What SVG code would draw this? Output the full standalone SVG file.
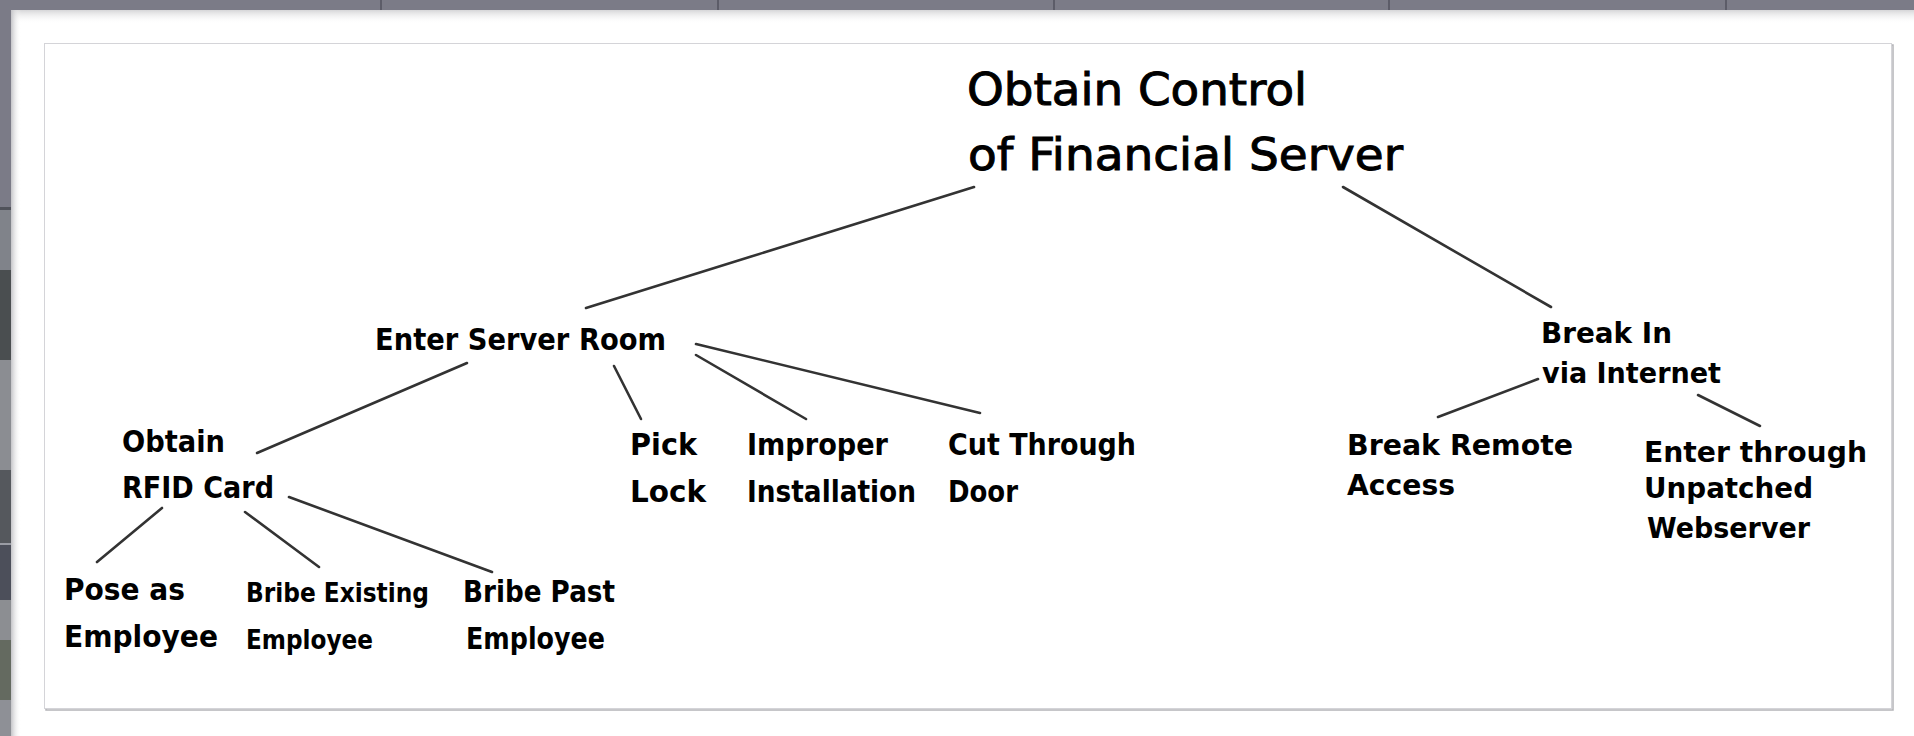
<svg xmlns="http://www.w3.org/2000/svg" width="1914" height="736" viewBox="0 0 1914 736">
  <defs>
    <linearGradient id="panelTop" x1="0" y1="0" x2="0" y2="1">
      <stop offset="0" stop-color="#d6d6d8"/>
      <stop offset="1" stop-color="#ffffff" stop-opacity="0"/>
    </linearGradient>
    <linearGradient id="panelLeft" x1="0" y1="0" x2="1" y2="0">
      <stop offset="0" stop-color="#c4c4c8"/>
      <stop offset="1" stop-color="#ffffff" stop-opacity="0"/>
    </linearGradient>
    <style>
      .lbl { font-family: "DejaVu Sans", "Liberation Sans", sans-serif; font-weight: bold; fill: #000; }
      .root { font-family: "DejaVu Sans", "Liberation Sans", sans-serif; font-weight: normal; font-size: 45px; fill: #000; stroke: #000; stroke-width: 1; }
      .s30 { font-size: 30px; }
      .s28 { font-size: 28px; }
      .s27 { font-size: 27px; }
      .edge { stroke: #333; stroke-width: 2.6; stroke-linecap: round; fill: none; }
      .sep { stroke: #5c5c68; stroke-width: 2; }
    </style>
  </defs>

  <!-- desktop behind the window -->
  <rect x="0" y="0" width="1914" height="736" fill="#7b7b87"/>
  <g id="desktop-strip">
    <rect x="0" y="207" width="12" height="3" fill="#50525a"/>
    <rect x="0" y="210" width="12" height="60" fill="#80838a"/>
    <rect x="0" y="270" width="12" height="90" fill="#4a4e50"/>
    <rect x="0" y="360" width="12" height="110" fill="#8b8d92"/>
    <rect x="0" y="470" width="12" height="73" fill="#55585d"/>
    <rect x="0" y="543" width="12" height="2" fill="#9a9ca4"/>
    <rect x="0" y="545" width="12" height="55" fill="#4c4f5a"/>
    <rect x="0" y="600" width="12" height="40" fill="#8c8e92"/>
    <rect x="0" y="640" width="12" height="60" fill="#646a60"/>
    <rect x="0" y="700" width="12" height="36" fill="#8e9096"/>
  </g>
  <g id="top-band">
    <line class="sep" x1="381" y1="0" x2="381" y2="10"/>
    <line class="sep" x1="718" y1="0" x2="718" y2="10"/>
    <line class="sep" x1="1054" y1="0" x2="1054" y2="10"/>
    <line class="sep" x1="1389" y1="0" x2="1389" y2="10"/>
    <line class="sep" x1="1726" y1="0" x2="1726" y2="10"/>
  </g>

  <!-- window panel -->
  <rect x="11" y="10" width="1910" height="740" rx="5" fill="#ffffff"/>
  <rect x="11" y="10" width="1903" height="14" fill="url(#panelTop)"/>
  <rect x="11" y="10" width="10" height="726" fill="url(#panelLeft)"/>

  <!-- drawing area -->
  <rect x="46" y="45" width="1847" height="665" fill="none" stroke="#b4b4b8" stroke-width="1.5"/>
  <rect x="44.5" y="43.5" width="1847" height="665" fill="#ffffff" stroke="#d4d4d8" stroke-width="1"/>

  <!-- tree connectors -->
  <g id="connectors">
    <line class="edge" x1="974" y1="187" x2="586" y2="308"/>
    <line class="edge" x1="1343" y1="187" x2="1551" y2="307"/>
    <line class="edge" x1="467" y1="363" x2="257" y2="453"/>
    <line class="edge" x1="614" y1="366" x2="641" y2="419"/>
    <line class="edge" x1="696" y1="355" x2="806" y2="419" stroke-width="3.4"/>
    <line class="edge" x1="696" y1="344" x2="980" y2="413"/>
    <line class="edge" x1="162" y1="508" x2="97" y2="562"/>
    <line class="edge" x1="245" y1="512" x2="319" y2="567"/>
    <line class="edge" x1="289" y1="497" x2="492" y2="572"/>
    <line class="edge" x1="1538" y1="379" x2="1438" y2="417"/>
    <line class="edge" x1="1698" y1="395" x2="1760" y2="426"/>
  </g>

  <g id="node-root">
    <text class="root" x="967" y="105" textLength="340" lengthAdjust="spacingAndGlyphs">Obtain Control</text>
    <text class="root" x="968" y="170" textLength="435" lengthAdjust="spacingAndGlyphs">of Financial Server</text>
  </g>

  <g id="node-server-room">
    <text class="lbl s30" x="375" y="350" textLength="291" lengthAdjust="spacingAndGlyphs">Enter Server Room</text>
  </g>

  <g id="node-rfid">
    <text class="lbl s30" x="122" y="452" textLength="103" lengthAdjust="spacingAndGlyphs">Obtain</text>
    <text class="lbl s30" x="122" y="498" textLength="152" lengthAdjust="spacingAndGlyphs">RFID Card</text>
  </g>

  <g id="node-pick-lock">
    <text class="lbl s30" x="630" y="455" textLength="67" lengthAdjust="spacingAndGlyphs">Pick</text>
    <text class="lbl s30" x="630" y="502" textLength="76" lengthAdjust="spacingAndGlyphs">Lock</text>
  </g>

  <g id="node-improper">
    <text class="lbl s30" x="747" y="455" textLength="141" lengthAdjust="spacingAndGlyphs">Improper</text>
    <text class="lbl s30" x="747" y="502" textLength="169" lengthAdjust="spacingAndGlyphs">Installation</text>
  </g>

  <g id="node-cut-door">
    <text class="lbl s30" x="948" y="455" textLength="188" lengthAdjust="spacingAndGlyphs">Cut Through</text>
    <text class="lbl s30" x="948" y="502" textLength="70" lengthAdjust="spacingAndGlyphs">Door</text>
  </g>

  <g id="node-pose">
    <text class="lbl s30" x="64" y="600" textLength="121" lengthAdjust="spacingAndGlyphs">Pose as</text>
    <text class="lbl s30" x="64" y="647" textLength="154" lengthAdjust="spacingAndGlyphs">Employee</text>
  </g>

  <g id="node-bribe-existing">
    <text class="lbl s27" x="246" y="602" textLength="183" lengthAdjust="spacingAndGlyphs">Bribe Existing</text>
    <text class="lbl s27" x="246" y="649" textLength="127" lengthAdjust="spacingAndGlyphs">Employee</text>
  </g>

  <g id="node-bribe-past">
    <text class="lbl s30" x="463" y="602" textLength="152" lengthAdjust="spacingAndGlyphs">Bribe Past</text>
    <text class="lbl s30" x="466" y="649" textLength="139" lengthAdjust="spacingAndGlyphs">Employee</text>
  </g>

  <g id="node-internet">
    <text class="lbl s28" x="1541" y="343" textLength="131" lengthAdjust="spacingAndGlyphs">Break In</text>
    <text class="lbl s28" x="1542" y="383" textLength="179" lengthAdjust="spacingAndGlyphs">via Internet</text>
  </g>

  <g id="node-remote">
    <text class="lbl s28" x="1347" y="455" textLength="226" lengthAdjust="spacingAndGlyphs">Break Remote</text>
    <text class="lbl s28" x="1347" y="495" textLength="108" lengthAdjust="spacingAndGlyphs">Access</text>
  </g>

  <g id="node-webserver">
    <text class="lbl s28" x="1644" y="462" textLength="223" lengthAdjust="spacingAndGlyphs">Enter through</text>
    <text class="lbl s28" x="1644" y="498" textLength="169" lengthAdjust="spacingAndGlyphs">Unpatched</text>
    <text class="lbl s28" x="1647" y="538" textLength="163" lengthAdjust="spacingAndGlyphs">Webserver</text>
  </g>
</svg>
